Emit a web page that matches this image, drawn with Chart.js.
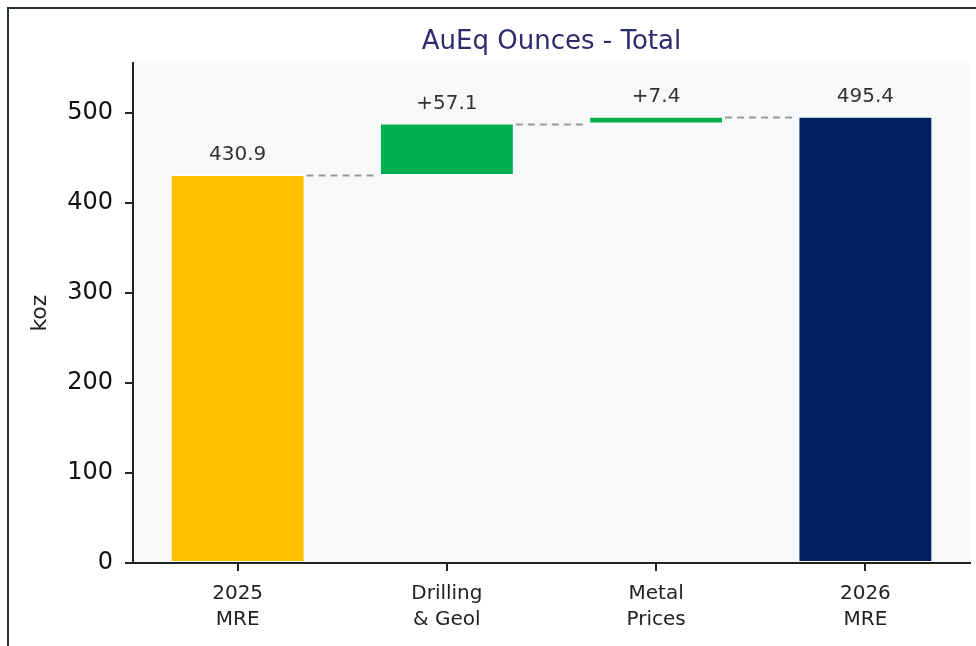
<!DOCTYPE html>
<html>
<head>
<meta charset="utf-8">
<title>AuEq Ounces - Total</title>
<script src="https://cdn.jsdelivr.net/npm/chart.js@4.4.1/dist/chart.umd.min.js"></script>
<style>
body{margin:0;background:#fff;}
canvas{display:block;}
</style>
</head>
<body>
<canvas id="chart" width="976" height="646"></canvas>
<script>
// ---------------- DATA ----------------
const categories = [["2025","MRE"],["Drilling","& Geol"],["Metal","Prices"],["2026","MRE"]];
const values = [430.9, 57.1, 7.4, 495.4];
const barTypes = ["total","delta","delta","total"];
const barLabels = ["430.9","+57.1","+7.4","495.4"];
const barColors = ["#FFC000","#00B050","#00B050","#002060"];
const yTicks = [0,100,200,300,400,500];
const yMax = 555;

const FONT = "'DejaVu Sans', sans-serif";

// ---------------- WATERFALL ----------------
let running = 0;
const floating = values.map((v,i)=>{
  if(barTypes[i]==="total"){ running = v; return [0,v]; }
  const start = running;
  running += v;
  return [start, running];
});

// plot bg + outer frame
const bgPlugin = {
  id:"bg",
  beforeDraw(c){
    const ctx = c.ctx, a = c.chartArea;
    ctx.save();
    ctx.fillStyle = "#f7f8fa";
    ctx.fillRect(a.left, a.top, a.right-a.left, a.bottom-a.top);
    ctx.strokeStyle = "#263238";
    ctx.lineWidth = 2;
    ctx.strokeRect(8, 8, 1200, 1200);
    ctx.restore();
  }
};

// dashed connectors + value labels
const waterfallPlugin = {
  id:"waterfall",
  afterDatasetsDraw(c){
    const ctx = c.ctx;
    const meta = c.getDatasetMeta(0);
    const y = c.scales.y;
    ctx.save();

    ctx.strokeStyle = "#9a9a9a";
    ctx.lineWidth = 2;
    ctx.setLineDash([7,5]);
    for(let i=0;i<meta.data.length-1;i++){
      const b = meta.data[i], n = meta.data[i+1];
      const py = Math.round(y.getPixelForValue(floating[i][1])) + 0.5;
      ctx.beginPath();
      ctx.moveTo(b.x + b.width/2 + 2, py);
      ctx.lineTo(n.x - n.width/2 - 2, py);
      ctx.stroke();
    }
    ctx.setLineDash([]);

    ctx.fillStyle = "#333";
    ctx.font = "20px " + FONT;
    ctx.textAlign = "center";
    ctx.textBaseline = "middle";
    meta.data.forEach((b,i)=>{
      const top = y.getPixelForValue(floating[i][1]);
      ctx.fillText(barLabels[i], b.x, top - 20);
    });
    ctx.restore();
  },
  // x tick marks under each bar centre
  afterDraw(c){
    const ctx = c.ctx;
    const meta = c.getDatasetMeta(0);
    const bottom = c.chartArea.bottom;
    ctx.save();
    ctx.fillStyle = "#222";
    meta.data.forEach(b=>{
      ctx.fillRect(Math.round(b.x) - 1, bottom, 2, 8);
    });
    ctx.restore();
  }
};

// ---------------- CHART ----------------
const chart = new Chart(document.getElementById("chart"),{
  type:"bar",
  data:{
    labels: categories,
    datasets:[{
      data: floating,
      backgroundColor: barColors,
      borderColor:"#ffffff",
      borderWidth:1,
      borderSkipped:false,
      barPercentage:0.64,
      categoryPercentage:1
    }]
  },
  options:{
    responsive:false,
    animation:false,
    layout:{ padding:{ left:0, right:6, top:0, bottom:0 } },
    plugins:{
      legend:{ display:false },
      tooltip:{ enabled:false },
      title:{
        display:true,
        fullSize:false,
        text:"AuEq Ounces - Total",
        color:"#2d2b6b",
        font:{ family:FONT, size:26, weight:"normal", lineHeight:1.2 },
        padding:{ top:27, bottom:5 }
      }
    },
    scales:{
      x:{
        grid:{ display:false },
        border:{ display:true, color:"#222", width:2, z:1 },
        ticks:{ color:"#222", padding:10, font:{ family:FONT, size:20, lineHeight:1.3 }, maxRotation:0 },
        afterFit(s){ s.height = 83; }
      },
      y:{
        min:0,
        max:yMax,
        grid:{ drawOnChartArea:false, drawTicks:true, tickLength:8, color:"#222", lineWidth:2 },
        border:{ display:true, color:"#222", width:2, z:1 },
        ticks:{ color:"#111", padding:12, font:{ family:FONT, size:24 } },
        afterBuildTicks(s){ s.ticks = yTicks.map(v=>({value:v})); },
        title:{
          display:true,
          text:"koz",
          color:"#222",
          font:{ family:FONT, size:22 },
          padding:{ top:27, bottom:0 }
        },
        afterFit(s){ s.width = 133; }
      }
    }
  },
  plugins:[bgPlugin, waterfallPlugin]
});
</script>
</body>
</html>
